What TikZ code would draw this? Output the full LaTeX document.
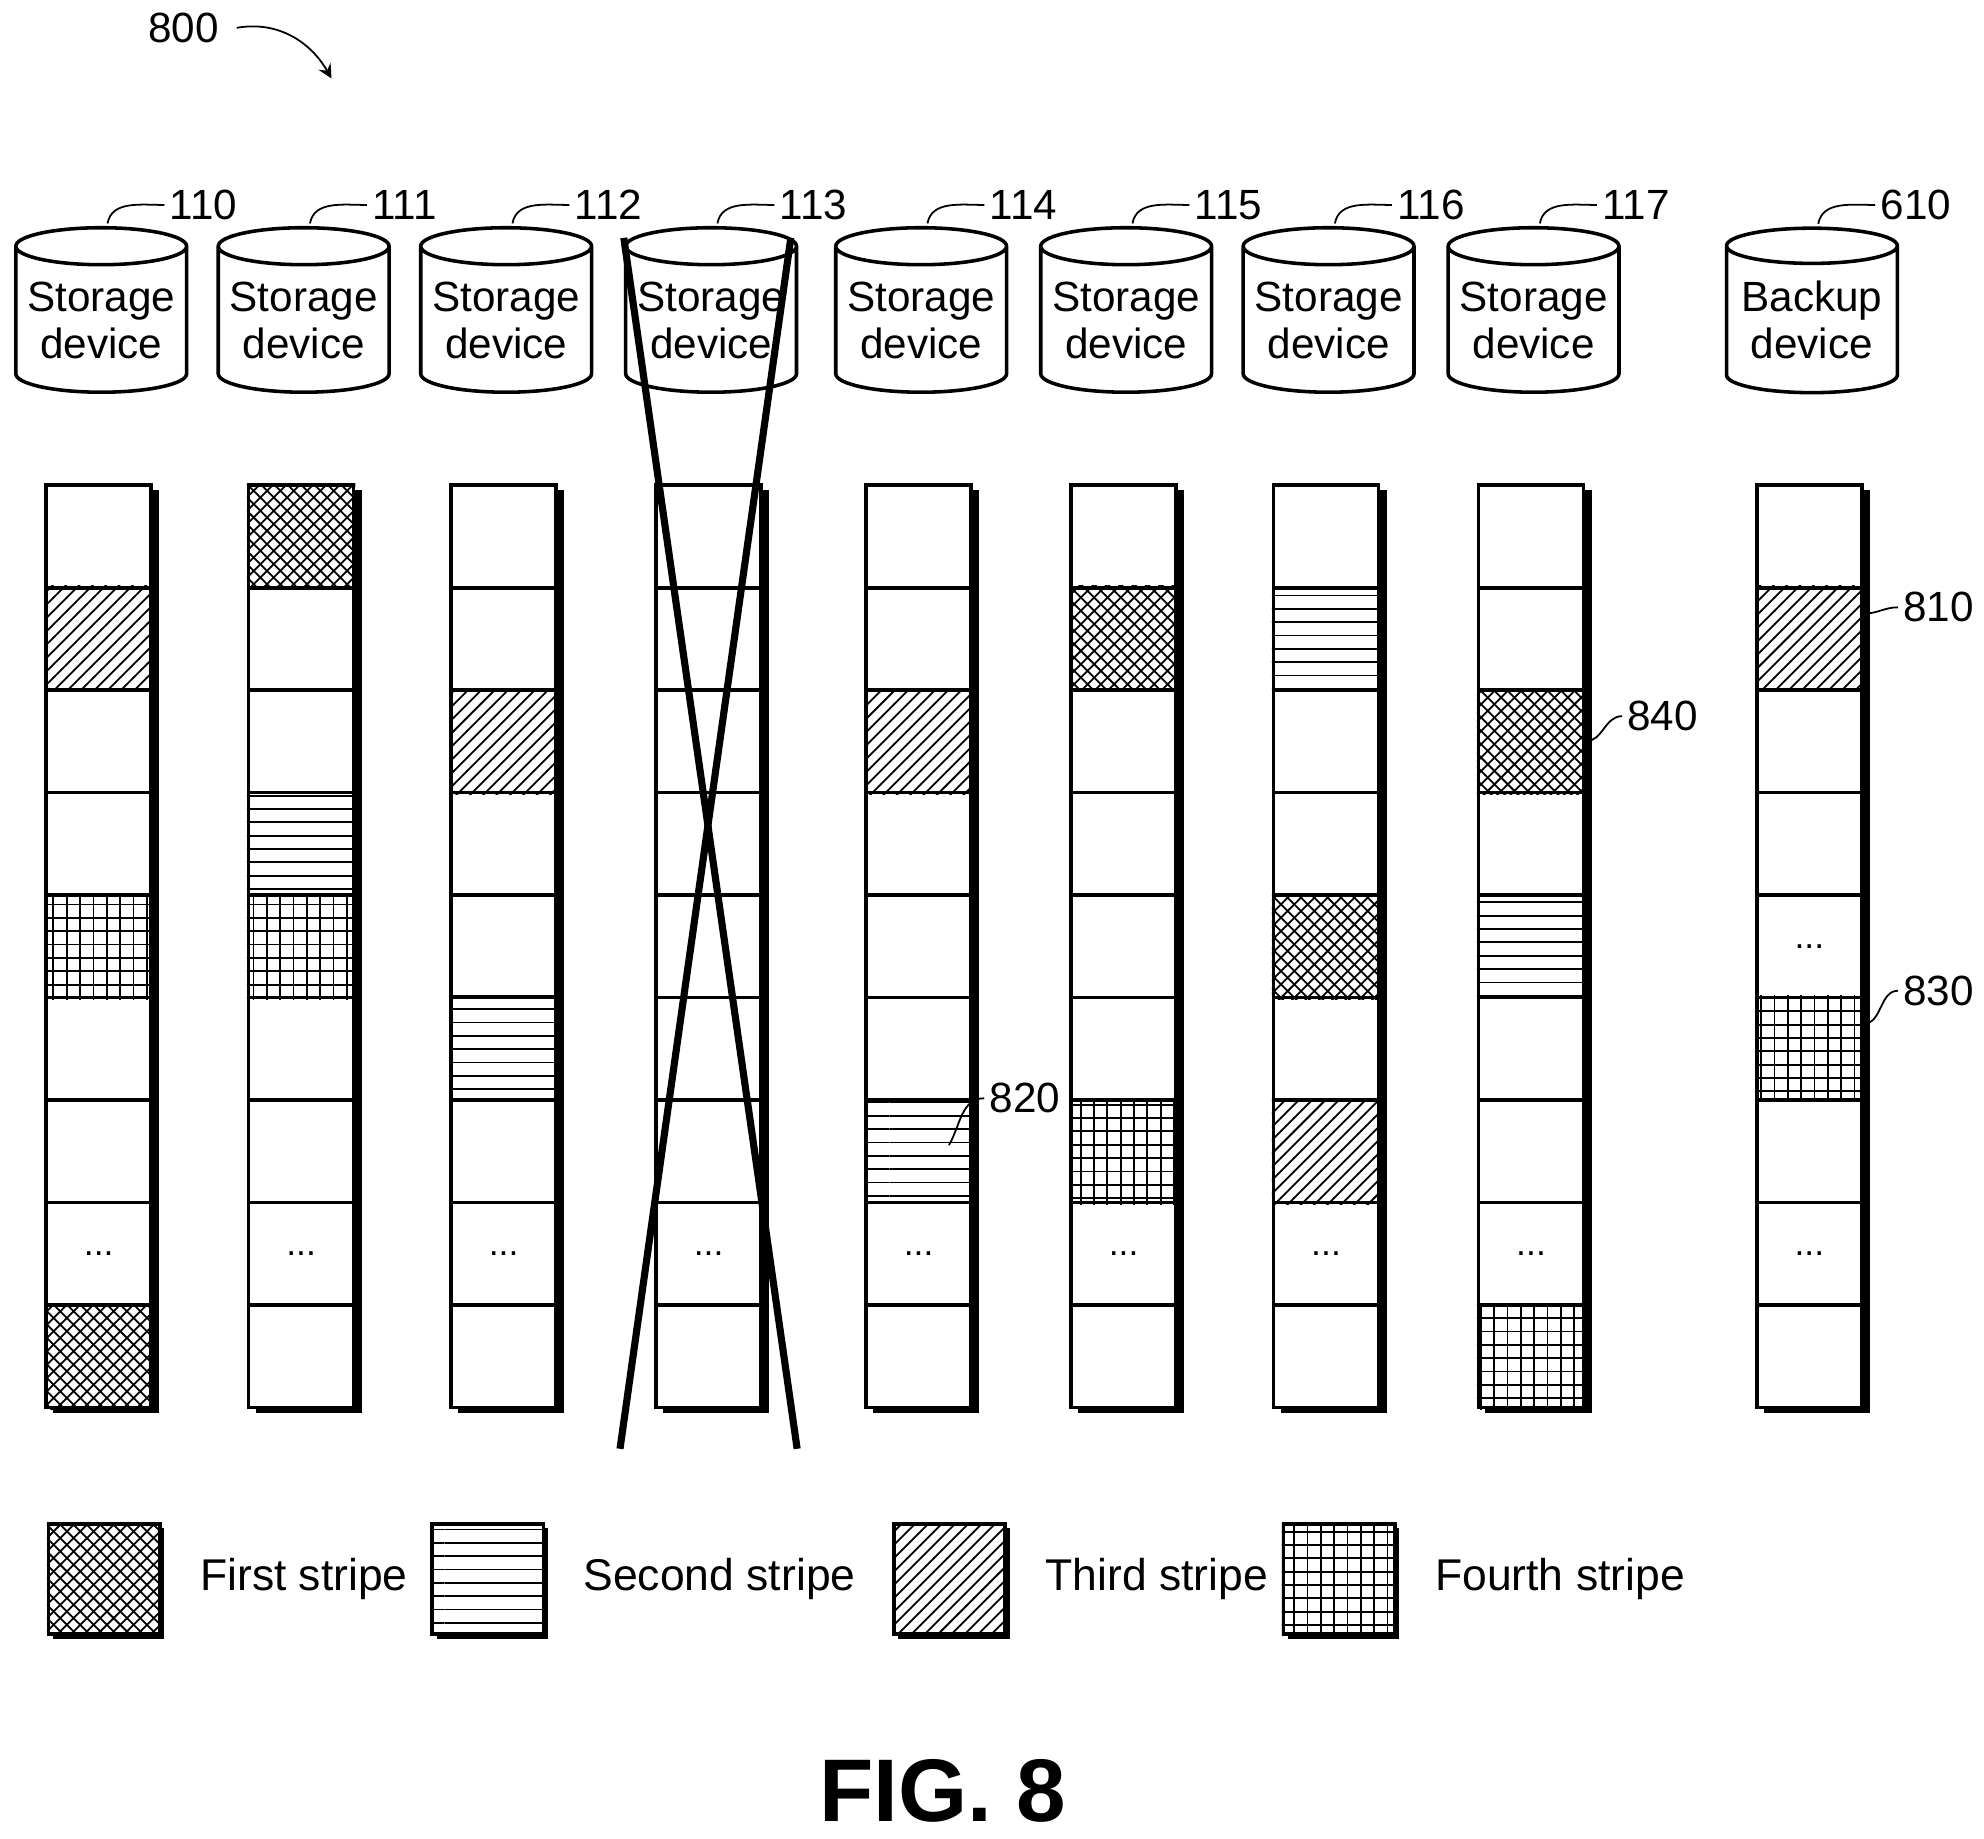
\documentclass[tikz,border=0pt]{standalone}
\usepackage{fontspec}
\setmainfont{Liberation Sans}
\usetikzlibrary{shapes.geometric,patterns}

\tikzset{
  cell/.style = {draw, thick, fill=white, minimum width=0.83cm, minimum height=0.81cm, inner sep=0pt, font=\footnotesize},
  first/.style = {pattern=crosshatch},
  second/.style = {pattern=horizontal lines},
  third/.style = {pattern=north east lines},
  fourth/.style = {pattern=grid},
  disk/.style = {cylinder, shape border rotate=90, aspect=0.25, draw, thick, fill=white,
    minimum width=1.35cm, minimum height=1.3cm, inner sep=0pt, align=center, font=\fontsize{9.5}{10.5}\selectfont},
  lead/.style = {thin},
  tag/.style = {font=\fontsize{9.5}{11}\selectfont, inner sep=1pt}
}

\begin{document}
\begin{tikzpicture}
\useasboundingbox (0,0) rectangle (15.68,-14.53);

% reference number of the figure
\node[tag] (fig) at (1.45,-0.22) {800};
\coordinate (figend) at (2.62,-0.62);
\draw[lead, ->, >=stealth] (fig.east) ++(0.1,0) to[out=10, in=120] (figend);

% storage devices and their columns
\foreach \x/\num/\txt [count=\i from 0] in {0.8/110/Storage, 2.4/111/Storage, 4.0/112/Storage, 5.62/113/Storage,
    7.28/114/Storage, 8.9/115/Storage, 10.5/116/Storage, 12.12/117/Storage, 14.32/610/Backup} {
  \node[disk] (d\i) at (\x,-2.53) {\txt\\device};
  \node[tag, anchor=west] (n\i) at (\x+0.5,-1.62) {\num};
  \draw[lead] (d\i.north) ++(0.05,0.02) to[out=80, in=180] (n\i.west);
  % shadow of the column
  \fill (\x-0.38,-3.87) rectangle (\x+0.46,-11.17);
  \foreach \j in {0,...,8} {
    \node[cell] (c\i-\j) at (\x-0.02,-4.24-0.81*\j) {};
  }
  \node[font=\footnotesize] at (c\i-7) {...};
}

% striped blocks
\foreach \i/\j/\s in {0/1/third, 0/4/fourth, 0/8/first,
    1/0/first, 1/3/second, 1/4/fourth,
    2/2/third, 2/5/second,
    4/2/third, 4/6/second,
    5/1/first, 5/6/fourth,
    6/1/second, 6/4/first, 6/6/third,
    7/2/first, 7/4/second, 7/8/fourth,
    8/1/third, 8/5/fourth} {
  \path[\s] (c\i-\j.south west) rectangle (c\i-\j.north east);
}
\node[font=\footnotesize] at (c8-4) {...};

% labels of blocks
\node[tag, anchor=east] (l820) at (8.42,-8.68) {820};
\draw[lead] (7.5,-9.05) to[out=60, in=180] (l820.west);
\node[tag, anchor=west] (l840) at (12.82,-5.66) {840};
\draw[lead] (c7-2.east) to[out=0, in=180] (l840.west);
\node[tag, anchor=west] (l810) at (15.0,-4.8) {810};
\draw[lead] (c8-1.east) ++(0,0.2) to[out=0, in=180] (l810.west);
\node[tag, anchor=west] (l830) at (15.0,-7.83) {830};
\draw[lead] (c8-5.east) ++(0,0.2) to[out=0, in=180] (l830.west);

% failed device
\coordinate (xa) at (4.93,-1.88);
\coordinate (xb) at (6.3,-11.45);
\coordinate (xc) at (6.25,-1.88);
\coordinate (xd) at (4.9,-11.45);
\draw[line width=1.6pt] (xa) -- (xb);
\draw[line width=1.6pt] (xc) -- (xd);

% legend
\foreach \x/\s/\txt [count=\k] in {0.37/first/First stripe, 3.4/second/Second stripe,
    7.05/third/Third stripe, 10.13/fourth/Fourth stripe} {
  \fill (\x+0.05,-12.08) rectangle (\x+0.93,-12.95);
  \node[cell, minimum width=0.88cm, minimum height=0.87cm, anchor=north west] (g\k) at (\x,-12.03) {};
  \path[\s] (g\k.south west) rectangle (g\k.north east);
  \node[anchor=west, font=\fontsize{10}{12}\selectfont] (t\k) at ([xshift=0.18cm]g\k.east) {\txt};
}

\node[font=\fontsize{20}{24}\bfseries] (title) at (7.45,-14.15) {FIG. 8};
\end{tikzpicture}
\end{document}
